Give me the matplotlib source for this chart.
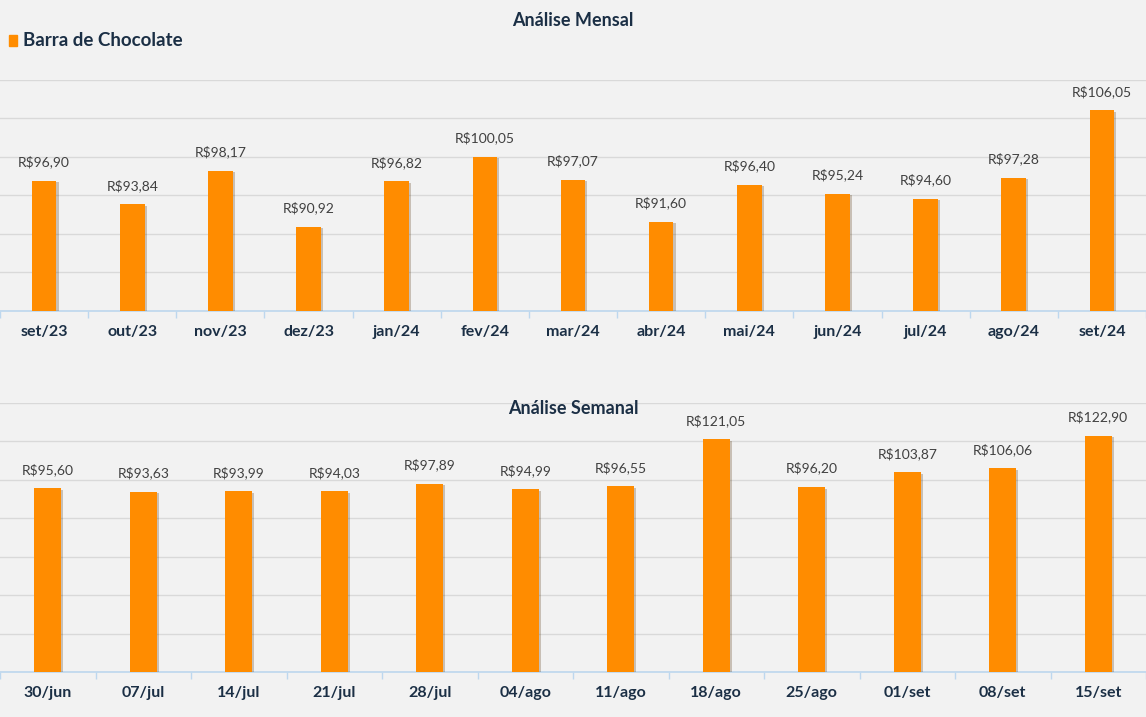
import matplotlib.pyplot as plt
import matplotlib.patheffects as pe
import numpy as np

meses = ["set/23", "out/23", "nov/23", "dez/23", "jan/24", "fev/24", "mar/24",
         "abr/24", "mai/24", "jun/24", "jul/24", "ago/24", "set/24"]
precos_mes = [96.90, 93.84, 98.17, 90.92, 96.82, 100.05, 97.07,
              91.60, 96.40, 95.24, 94.60, 97.28, 106.05]

semanas = ["30/jun", "07/jul", "14/jul", "21/jul", "28/jul", "04/ago",
           "11/ago", "18/ago", "25/ago", "01/set", "08/set", "15/set"]
precos_semana = [95.60, 93.63, 93.99, 94.03, 97.89, 94.99,
                 96.55, 121.05, 96.20, 103.87, 106.06, 122.90]

BG = "#F2F2F2"
LARANJA = "#FF8C00"
AZUL_ESCURO = "#1B2F45"
GRID = "#D9D9D9"
EIXO = "#BDD7EE"

plt.rcParams['font.family'] = ['Lato', 'DejaVu Sans']


def brl(v):
    return "R$" + f"{v:.2f}".replace(".", ",")


def desenha(ax, cats, vals, ymin, ymax, passo):
    x = np.arange(len(cats))
    ax.set_facecolor(BG)
    bars = ax.bar(x, vals, width=0.28, color=LARANJA, zorder=3,
                  path_effects=[pe.SimplePatchShadow(offset=(1.5, -1), alpha=0.25),
                                pe.Normal()])
    for b, v in zip(bars, vals):
        ax.annotate(brl(v), (b.get_x() + b.get_width() / 2, b.get_height()),
                    xytext=(0, 9), textcoords="offset points",
                    ha="center", va="bottom", fontsize=10, color="#404040")
    ax.set_xlim(-0.5, len(cats) - 0.5)
    ax.set_ylim(ymin, ymax)
    ax.set_yticks(np.arange(ymin, ymax + 0.1, passo))
    ax.yaxis.grid(True, color=GRID, linewidth=1, zorder=0)
    ax.tick_params(axis="y", left=False, labelleft=False)
    ax.set_xticks(x)
    ax.set_xticklabels(cats, fontsize=11.5, fontweight="bold", color=AZUL_ESCURO)
    ax.tick_params(axis="x", length=0, pad=10)
    ax.set_xticks(np.arange(-0.5, len(cats)), minor=True)
    ax.tick_params(axis="x", which="minor", length=5, color=EIXO, width=1)
    for s in ["top", "left", "right"]:
        ax.spines[s].set_visible(False)
    ax.spines["bottom"].set_color(EIXO)
    ax.spines["bottom"].set_linewidth(1.2)


fig = plt.figure(figsize=(11.46, 7.17), dpi=100, facecolor=BG)

ax1 = fig.add_axes([0.0, 0.5663, 1.0, 0.3222])
desenha(ax1, meses, precos_mes, 80, 110, 5)

ax2 = fig.add_axes([0.0, 0.0628, 1.0, 0.3752])
desenha(ax2, semanas, precos_semana, 0, 140, 20)

fig.text(0.5, 1 - 20 / 717, "Análise Mensal", ha="center", va="center",
         fontsize=13, fontweight="bold", color=AZUL_ESCURO)
fig.text(0.5, 1 - 408 / 717, "Análise Semanal", ha="center", va="center",
         fontsize=13, fontweight="bold", color=AZUL_ESCURO)

# legenda
fig.patches.append(plt.Rectangle((9 / 1146, 1 - 46 / 717), 8 / 1146, 11 / 717,
                                 transform=fig.transFigure, color=LARANJA))
fig.text(23 / 1146, 1 - 40 / 717, "Barra de Chocolate", ha="left", va="center",
         fontsize=13.5, fontweight="bold", color=AZUL_ESCURO)

fig.savefig("out.png", dpi=100, facecolor=BG)
